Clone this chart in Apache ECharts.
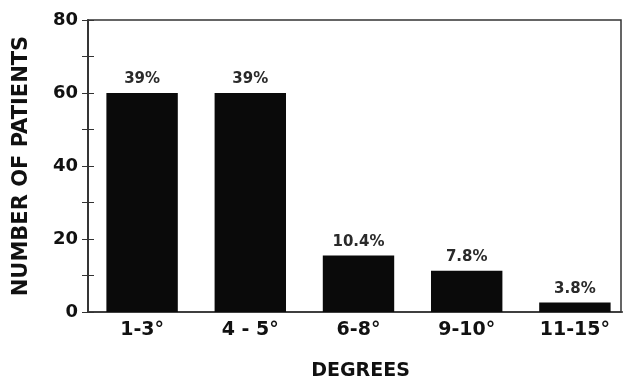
<!DOCTYPE html>
<html>
<head>
<meta charset="utf-8">
<script src="https://cdn.jsdelivr.net/npm/echarts@6/dist/echarts.min.js"></script>
<style>html,body{margin:0;padding:0;background:#fff;}#c{width:623px;height:384px;}</style>
</head>
<body>
<div id="c"></div>
<script>
const categories = ['1-3°', '4 - 5°', '6-8°', '9-10°', '11-15°'];
const patients = [60, 60, 15.5, 11.3, 2.6];
const percentLabels = ['39%', '39%', '10.4%', '7.8%', '3.8%'];
const yTicks = [0, 20, 40, 60, 80];

const chart = echarts.init(document.getElementById('c'));
const font = 'DejaVu Sans';
const lineCol = '#333';
chart.setOption({
  animation: false,
  backgroundColor: '#fff',
  grid: [
    { left: 88, width: 541, top: 20, bottom: 72, outerBoundsMode: 'none', containLabel: false },
    { left: 88, right: 2, top: 20, bottom: 72, outerBoundsMode: 'none', containLabel: false,
      show: true, borderColor: lineCol, borderWidth: 1.5, backgroundColor: 'transparent' }
  ],
  xAxis: [{
    type: 'category',
    gridIndex: 0,
    data: categories,
    axisTick: { show: false },
    axisLine: { lineStyle: { color: lineCol, width: 1.5 } },
    axisLabel: { color: '#111', fontFamily: font, fontWeight: 'bold', fontSize: 19, margin: 9 },
    name: 'DEGREES',
    nameLocation: 'middle',
    nameGap: 50,
    nameTextStyle: { color: '#111', fontFamily: font, fontWeight: 'bold', fontSize: 19, padding: [0, 0, 0, 4] }
  }, {
    type: 'value',
    gridIndex: 1,
    min: 0, max: 1,
    show: false
  }],
  yAxis: [{
    type: 'value',
    gridIndex: 0,
    min: 0, max: 80, interval: 10,
    axisLine: { show: true, lineStyle: { color: lineCol, width: 1.5 } },
    axisTick: { show: true, inside: true, length: 6, lineStyle: { color: lineCol } },
    splitLine: { show: false },
    axisLabel: { color: '#111', fontFamily: font, fontWeight: 'bold', fontSize: 18, margin: 10,
      formatter: v => yTicks.includes(v) ? String(v) : '' },
    name: 'NUMBER OF PATIENTS',
    nameLocation: 'middle',
    nameGap: 56,
    nameTextStyle: { color: '#111', fontFamily: font, fontWeight: 'bold', fontSize: 21 }
  }, {
    type: 'value',
    gridIndex: 1,
    position: 'right',
    min: 0, max: 80, interval: 10,
    axisLine: { show: true, lineStyle: { color: lineCol, width: 1.5 } },
    axisTick: { show: true, inside: true, length: 6, lineStyle: { color: lineCol } },
    splitLine: { show: false },
    axisLabel: { show: false }
  }],
  series: [{
    type: 'bar',
    xAxisIndex: 0,
    yAxisIndex: 0,
    data: patients,
    barWidth: '66%',
    itemStyle: { color: '#0a0a0a' },
    label: {
      show: true,
      position: 'top',
      distance: 6,
      color: '#2a2a2a',
      fontFamily: font,
      fontWeight: 'bold',
      fontSize: 15,
      formatter: p => percentLabels[p.dataIndex]
    }
  }]
});
</script>
</body>
</html>
